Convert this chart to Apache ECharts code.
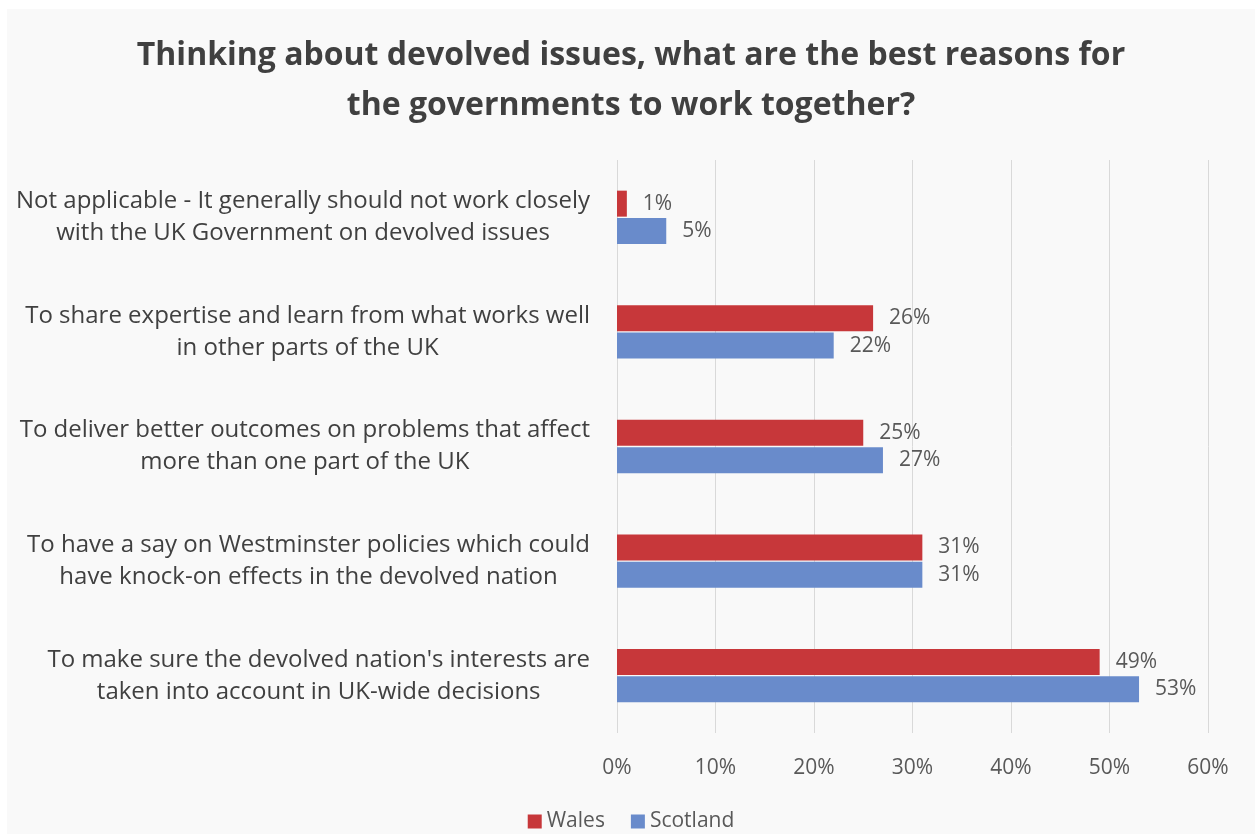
<!DOCTYPE html>
<html>
<head>
<meta charset="utf-8">
<script src="https://cdn.jsdelivr.net/npm/echarts@6/dist/echarts.min.js"></script>
<style>
html,body{margin:0;padding:0;background:#ffffff;width:1255px;height:834px;overflow:hidden;}
#chart{position:absolute;left:7px;top:9px;width:1248px;height:825px;background:#f9f9f9;}
</style>
</head>
<body>
<div id="chart"></div>
<script>
const titleText = "Thinking about devolved issues, what are the best reasons for\nthe governments to work together?";
const categories = [
  "Not applicable - It generally should not work closely\nwith the UK Government on devolved issues",
  "To share expertise and learn from what works well\nin other parts of the UK",
  "To deliver better outcomes on problems that affect\nmore than one part of the UK",
  "To have a say on Westminster policies which could\nhave knock-on effects in the devolved nation",
  "To make sure the devolved nation's interests are\ntaken into account in UK-wide decisions"
];
const seriesNames = ["Wales", "Scotland"];
const walesValues = [1, 26, 25, 31, 49];
const scotlandValues = [5, 22, 27, 31, 53];
const xTickMin = 0, xTickMax = 60, xTickStep = 10;

const chart = echarts.init(document.getElementById('chart'));
const font = 'Open Sans';
const labelCfg = {
  show: true, position: 'right', distance: 16,
  formatter: '{c}%', color: '#595959', fontSize: 21, fontFamily: font
};
chart.setOption({
  animation: false,
  backgroundColor: '#f9f9f9',
  title: {
    text: titleText, left: 'center', top: 22, padding: 0,
    textStyle: {fontFamily: font, fontSize: 32, fontWeight: 'bold', color: '#404040', lineHeight: 50}
  },
  legend: {
    data: seriesNames, bottom: -3, left: 'center', itemWidth: 14, itemHeight: 14, itemGap: 26,
    icon: 'rect',
    textStyle: {fontFamily: font, fontSize: 21, color: '#595959'}
  },
  grid: {left: 610, right: 47, top: 151, bottom: 101},
  xAxis: {
    type: 'value', min: xTickMin, max: xTickMax, interval: xTickStep,
    axisLine: {show: false}, axisTick: {show: false},
    splitLine: {show: true, lineStyle: {color: '#d9d9d9', width: 1}},
    axisLabel: {formatter: '{value}%', color: '#595959', fontSize: 21, fontFamily: font, margin: 25}
  },
  yAxis: {
    type: 'category', data: categories, inverse: true,
    axisLine: {show: false}, axisTick: {show: false},
    axisLabel: {
      align: 'right', margin: 27,
      formatter: function (v) { return v.split('\n').map(function (l) { return '{c|' + l + '}'; }).join('\n'); },
      rich: {c: {align: 'center', color: '#404040', fontSize: 24, fontFamily: font, lineHeight: 32}}
    }
  },
  series: [
    {name: seriesNames[0], type: 'bar', data: walesValues, barWidth: 26, barGap: '5%',
     itemStyle: {color: '#c7373a'}, label: labelCfg},
    {name: seriesNames[1], type: 'bar', data: scotlandValues, barWidth: 26, barGap: '5%',
     itemStyle: {color: '#698bcb'}, label: labelCfg}
  ]
});
</script>
</body>
</html>
